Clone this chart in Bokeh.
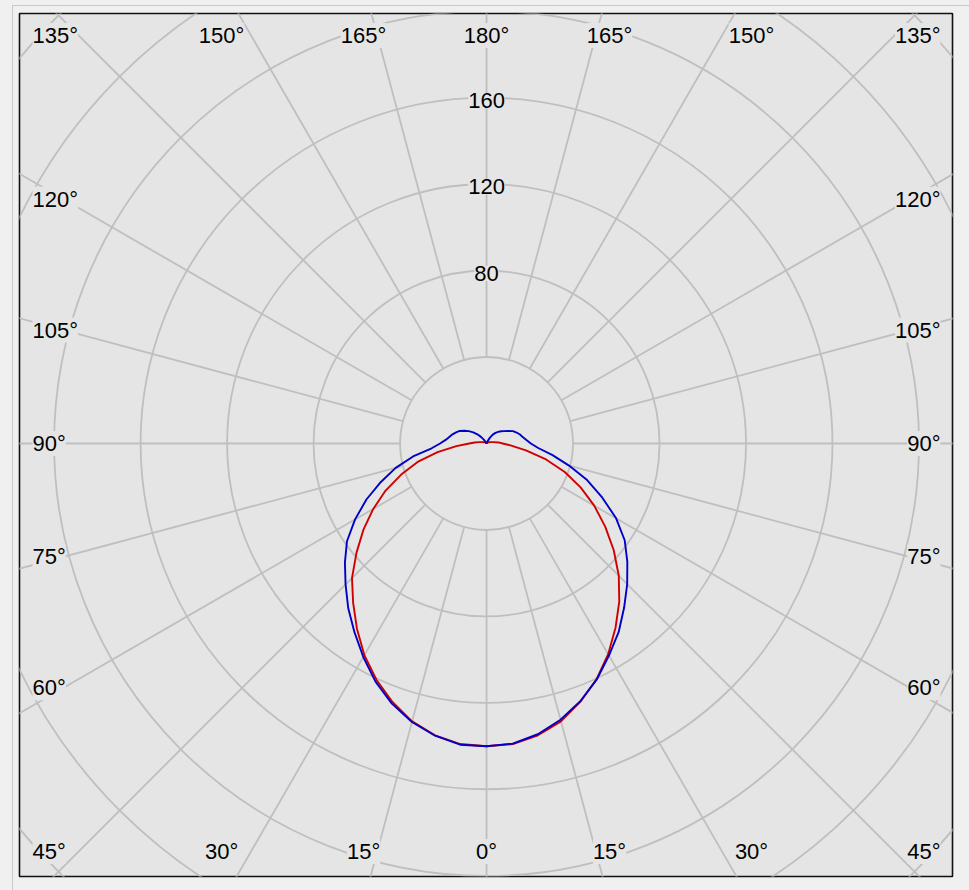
import numpy as np
from bokeh.plotting import figure
from bokeh.models import Range1d, Label
from bokeh.embed import file_html
from bokeh.resources import INLINE

# ---------------- data (luminous intensity, cd, vs. gamma angle from nadir) -------------
GAMMA = list(range(0, 181, 5))

RED_LEFT = [140, 139.5, 137, 133, 127.2, 120.5, 113, 104.5, 96, 88, 78.5, 69.5, 60.5,
            51.5, 42, 33, 23, 14, 8, 5.5, 3.5, 2.4, 1.8, 1.4, 1.2, 1.0, 0.9, 0.7, 0.5,
            0.3, 0.2, 0, 0, 0, 0, 0, 0]
RED_RIGHT = [140, 139.5, 137, 133, 127, 120.3, 112.5, 104, 95.5, 86.5, 76.8, 67, 57.5,
             48, 38.5, 28.5, 18.5, 11.5, 7.5, 5.5, 3.5, 2.4, 1.8, 1.4, 1.2, 1.0, 0.9, 0.7,
             0.5, 0.3, 0.2, 0, 0, 0, 0, 0, 0]
BLUE_LEFT = [140, 139.8, 137.2, 133.3, 128, 121.5, 114, 106.5, 99.5, 92.2, 85.5, 78.8,
             70.2, 61.3, 52, 43.5, 34.5, 25.5, 21.5, 19, 17.5, 16.3, 15, 13.7, 11.8, 10,
             8, 6, 4, 2.2, 0.8, 0, 0, 0, 0, 0, 0]
BLUE_RIGHT = [140, 139.3, 136.5, 132.2, 126.8, 120.5, 113.2, 106.5, 99, 92, 85, 78, 69.2,
              59, 49.5, 39.5, 31, 24, 20.5, 18.5, 17, 16, 14.8, 13.5, 11.5, 10, 8.8, 7.6,
              6.4, 5, 3, 1.2, 0, 0, 0, 0, 0]

RINGS = [40, 80, 120, 160, 200, 240, 280]
RING_LABELS = ["80", "120", "160"]
RING_LABEL_VALUES = [80, 120, 160]
SPOKES = list(range(0, 360, 15))
ANGLE_TICKS = list(range(0, 181, 15))

# ---------------- styling --------------------------------------------------------------
PAGE_BG = "#f0f0f0"
PLOT_BG = "#e5e5e5"
GRID = "#bfbfbf"
RED = "#d00000"
BLUE = "#0000c8"
FONT = "Liberation Sans"
FS = "22px"
PXU = 2.1625  # pixels per cd unit

p = figure(width=961, height=882, output_backend="svg", toolbar_location=None,
           x_axis_type=None, y_axis_type=None,
           x_range=Range1d(-216.0, 215.5), y_range=Range1d(-200.2, 198.8),
           min_border_left=19, min_border_right=9, min_border_top=13, min_border_bottom=6,
           background_fill_color=PLOT_BG, border_fill_color=PAGE_BG)
p.grid.visible = False
p.outline_line_color = "#111111"
p.outline_line_width = 1.6

# rings
p.circle(x=[0] * len(RINGS), y=[0] * len(RINGS), radius=RINGS, fill_color=None,
         line_color=GRID, line_width=1.8)

# spokes starting at the inner ring
sp = np.radians(SPOKES)
r0, r1 = RINGS[0], 450
p.segment(x0=r0 * np.sin(sp), y0=-r0 * np.cos(sp), x1=r1 * np.sin(sp), y1=-r1 * np.cos(sp),
          line_color=GRID, line_width=1.8)


def curve(left, right):
    g = np.radians(GAMMA)
    l = np.asarray(left, float)
    r = np.asarray(right, float)
    xl, yl = -l * np.sin(g), -l * np.cos(g)
    xr, yr = r * np.sin(g), -r * np.cos(g)
    return np.concatenate([xl[::-1], xr[1:]]), np.concatenate([yl[::-1], yr[1:]])


xr_, yr_ = curve(RED_LEFT, RED_RIGHT)
p.line(xr_, yr_, line_color=RED, line_width=1.9, line_join="round")
xb_, yb_ = curve(BLUE_LEFT, BLUE_RIGHT)
p.line(xb_, yb_, line_color=BLUE, line_width=1.9, line_join="round")

# ring value labels along the 180 deg spoke
for txt, v in zip(RING_LABELS, RING_LABEL_VALUES):
    p.add_layout(Label(x=0, y=v, y_offset=-3, text=txt, text_align="center",
                       text_baseline="middle", text_font=FONT, text_font_size=FS,
                       text_color="black", background_fill_color=PLOT_BG))

# angle labels around the frame
KX = 459 / PXU      # horizontal reach for top/bottom rows
KY = 423 / PXU      # vertical reach for side columns
ROW_Y = 408 / PXU
LEFT_X = (32 - 486) / PXU
RIGHT_X = (940 - 486) / PXU
for a in ANGLE_TICKS:
    ar = np.radians(a)
    for side in ([1] if a in (0, 180) else [-1, 1]):
        txt = f"{a}°"
        if a <= 45 or a >= 135:
            yy = -ROW_Y if a <= 45 else ROW_Y
            xx = side * KX * abs(np.tan(ar))
            align = "center"
            if a in (45, 135):
                xx = LEFT_X if side < 0 else RIGHT_X
                align = "left" if side < 0 else "right"
        else:
            yy = -KY * np.cos(ar) / np.sin(ar)
            xx = LEFT_X if side < 0 else RIGHT_X
            align = "left" if side < 0 else "right"
        p.add_layout(Label(x=xx, y=yy, text=txt, text_align=align, text_baseline="middle",
                           text_font=FONT, text_font_size=FS, text_color="black",
                           background_fill_color=PLOT_BG))

css = (f"<style>html,body{{background:{PAGE_BG};}}"
       "body::after{content:'';position:fixed;left:12px;top:5px;right:0;bottom:0;"
       "border-left:1px solid #c9c9c9;border-top:1px solid #c9c9c9;"
       "pointer-events:none;z-index:10;}</style>")
html = file_html(p, INLINE, title="Polar intensity diagram")
html = html.replace("</head>", css + "</head>", 1)
open("out.html", "w").write(html)
